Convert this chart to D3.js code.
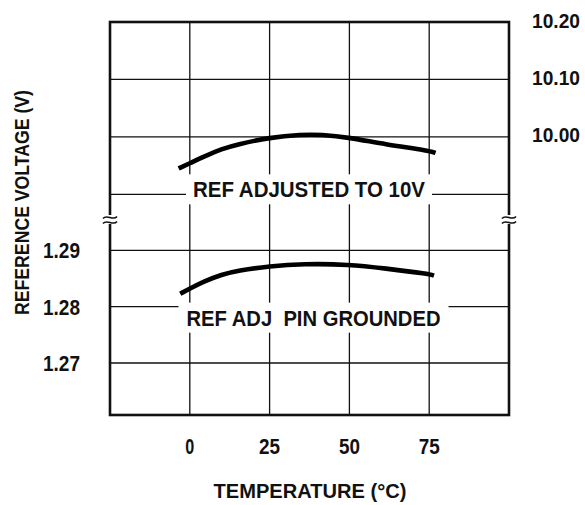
<!DOCTYPE html>
<html>
<head>
<meta charset="utf-8">
<script src="https://cdn.jsdelivr.net/npm/d3@7"></script>
<style>
  body { margin: 0; background: #fff; }
  text { font-family: "Liberation Sans", Arial, sans-serif; font-weight: bold; fill: #111; }
</style>
</head>
<body>
<svg id="chart" width="585" height="505"></svg>
<script>
// temperature grid (deg C)
const tempTicks = [0, 25, 50, 75];
const tempGrid = [0, 25, 50, 75];

// upper section: ref adjusted to 10V
const upperTicks = [9.90, 10.00, 10.10, 10.20];
const upperLabels = ['', '10.00', '10.10', '10.20'];

// lower section: ref adj pin grounded
const lowerTicks = [1.27, 1.28, 1.29];
const lowerLabels = ['1.27', '1.28', '1.29'];

const adjustedTemp = [-3.5, 0, 4.5, 10, 15, 25, 35, 41, 50, 61, 75, 77];
const adjustedV = [9.945, 9.954, 9.966, 9.979, 9.987, 9.999, 10.004, 10.004, 9.999, 9.987, 9.976, 9.972];

const groundedTemp = [-3, 0, 4.5, 10, 15, 25, 35.5, 50, 61, 75, 76.5];
const groundedV = [1.2823, 1.2832, 1.2845, 1.2857, 1.2864, 1.2872, 1.2876, 1.2875, 1.2868, 1.2858, 1.2855];

const svg = d3.select('#chart');

const plotLeft = 110, plotRight = 509, plotTop = 22, plotBottom = 415, breakY = 220;

const x = d3.scaleLinear().domain([-25, 100]).range([plotLeft, plotRight]);
const yUpper = d3.scaleLinear().domain([9.90, 10.20]).range([194.3, plotTop]);
const yLower = d3.scaleLinear().domain([1.27, 1.29]).range([363, 250.3]);

// squeeze text into the condensed look of the original lettering
function fit(sel, w) {
    sel.attr('textLength', w).attr('lengthAdjust', 'spacingAndGlyphs');
}

const grid = svg.append('g').attr('stroke', '#111').attr('stroke-width', 1.3);

grid.selectAll('.vline')
    .data(tempGrid)
    .join('line')
    .attr('x1', d => x(d)).attr('x2', d => x(d))
    .attr('y1', plotTop).attr('y2', plotBottom);

grid.selectAll('.uline')
    .data(upperTicks)
    .join('line')
    .attr('x1', plotLeft).attr('x2', plotRight)
    .attr('y1', d => yUpper(d)).attr('y2', d => yUpper(d));

grid.selectAll('.lline')
    .data(lowerTicks)
    .join('line')
    .attr('x1', plotLeft).attr('x2', plotRight)
    .attr('y1', d => yLower(d)).attr('y2', d => yLower(d));

// frame
svg.append('rect')
    .attr('x', plotLeft).attr('y', plotTop)
    .attr('width', plotRight - plotLeft).attr('height', plotBottom - plotTop)
    .attr('fill', 'none').attr('stroke', '#111').attr('stroke-width', 2.6);

// axis breaks on both sides
[plotLeft, plotRight].forEach(bx => {
    svg.append('rect')
        .attr('x', bx - 3).attr('y', breakY - 5)
        .attr('width', 6).attr('height', 9)
        .attr('fill', '#fff');
    [-2.5, 2.5].forEach(off => {
        const p = d3.path();
        p.moveTo(bx - 7, breakY + off + 1);
        p.bezierCurveTo(bx - 3, breakY + off - 4, bx + 3, breakY + off + 4, bx + 7, breakY + off - 1);
        svg.append('path')
            .attr('d', p.toString())
            .attr('fill', 'none').attr('stroke', '#111').attr('stroke-width', 1.6);
    });
});

// curves
const upperLine = d3.line()
    .x(d => x(d[0])).y(d => yUpper(d[1]))
    .curve(d3.curveBasis);
const lowerLine = d3.line()
    .x(d => x(d[0])).y(d => yLower(d[1]))
    .curve(d3.curveBasis);

svg.append('path')
    .attr('d', upperLine(d3.zip(adjustedTemp, adjustedV)))
    .attr('fill', 'none').attr('stroke', '#000').attr('stroke-width', 4.6);

svg.append('path')
    .attr('d', lowerLine(d3.zip(groundedTemp, groundedV)))
    .attr('fill', 'none').attr('stroke', '#000').attr('stroke-width', 4.6);

// curve labels with white boxes cutting the grid
function boxedLabel(txt, cx, cy, w, padX, padY) {
    const g = svg.append('g');
    const bg = g.append('rect').attr('fill', '#fff');
    g.append('text')
        .attr('x', cx - w / 2).attr('y', cy)
        .attr('dy', '0.36em')
        .style('font-size', '22px')
        .style('white-space', 'pre')
        .text(txt)
        .call(fit, w);
    bg.attr('x', cx - w / 2 - padX).attr('y', cy - 8 - padY)
        .attr('width', w + 2 * padX).attr('height', 16 + 2 * padY);
}

boxedLabel('REF ADJUSTED TO 10V', 309, yUpper(9.9) - 5, 232, 7, 7);
boxedLabel('REF ADJ  PIN GROUNDED', 313.5, yLower(1.28) + 11, 254, 8, 7);

// tick labels
svg.selectAll('.xt')
    .data(tempTicks)
    .join('text')
    .attr('x', d => x(d) - (d === 0 ? 4.5 : 10.5)).attr('y', 454)
    .style('font-size', '22px')
    .text(d => d)
    .each(function (d) { d3.select(this).call(fit, d === 0 ? 9 : 21); });

svg.selectAll('.ul')
    .data(upperTicks.map((d, i) => [d, upperLabels[i]]).filter(d => d[1]))
    .join('text')
    .attr('x', 580).attr('y', d => yUpper(d[0]) - 2)
    .attr('dy', '0.36em')
    .attr('text-anchor', 'end')
    .style('font-size', '21px')
    .text(d => d[1])
    .call(fit, 48);

svg.selectAll('.ll')
    .data(lowerTicks.map((d, i) => [d, lowerLabels[i]]))
    .join('text')
    .attr('x', 43).attr('y', d => yLower(d[0]))
    .attr('dy', '0.36em')
    .style('font-size', '22px')
    .text(d => d[1])
    .call(fit, 37);

// axis titles
svg.append('text')
    .attr('x', 213.5).attr('y', 497.5)
    .style('font-size', '21px')
    .text('TEMPERATURE (°C)')
    .call(fit, 193);

svg.append('text')
    .attr('transform', 'translate(22,315) rotate(-90)')
    .attr('dy', '0.36em')
    .style('font-size', '20px')
    .text('REFERENCE VOLTAGE (V)')
    .call(fit, 225);
</script>
</body>
</html>
